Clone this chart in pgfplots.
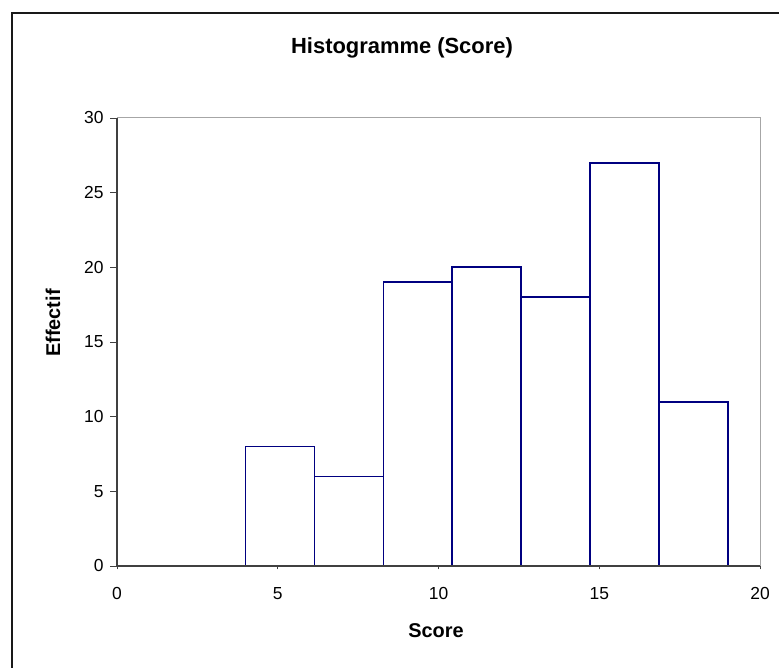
\documentclass[border=0pt]{standalone}
\usepackage{pgfplots}
\pgfplotsset{compat=1.18}
\usepackage{fontspec}
\setmainfont{Liberation Sans}

\definecolor{barblue}{HTML}{000080}
\definecolor{axdark}{HTML}{404040}
\definecolor{axlight}{HTML}{A6A6A6}

\begin{document}
\begin{tikzpicture}[x=1bp,y=1bp]
  \useasboundingbox (0,0) rectangle (779,668);
  % outer chart frame (runs off the right and bottom edge)
  \draw[line width=2bp,black!90] (11.7,-20) -- (11.7,655.3) -- (800,655.3);

  \begin{axis}[
    at={(117bp,102bp)}, anchor=origin,
    scale only axis,
    width=643bp, height=448bp,
    xmin=0, xmax=20, ymin=0, ymax=30,
    xtick={0,5,...,20}, ytick={0,5,...,30},
    xtick pos=bottom, ytick pos=left,
    xtick align=center, ytick align=outside,
    major tick length=7bp,
    tick style={axdark, line width=0.9bp},
    axis line style={axlight, line width=1bp},
    /pgf/number format/assume math mode=true,
    ticklabel style={font=\fontsize{17.5}{20}\selectfont, text=black},
    xticklabel style={yshift=-14bp},
    yticklabel style={xshift=-3bp},
    clip=false,
  ]
    \addplot[ybar interval, draw=barblue, fill=white, line width=1.7bp]
      coordinates {
        (4,8)
        (6.142857,6)
        (8.285714,19)
        (10.428571,20)
        (12.571429,18)
        (14.714286,27)
        (16.857143,11)
        (19,11)
      };
    % dark left and bottom axis lines
    \draw[axdark, line width=1.3bp] (rel axis cs:0,1) -- (rel axis cs:0,0) -- (rel axis cs:1,0);
  \end{axis}

  \node[font=\fontsize{22}{26}\selectfont\bfseries] at (402,620) {Histogramme (Score)};
  \node[font=\fontsize{20}{24}\selectfont\bfseries] at (436,37) {Score};
  \node[font=\fontsize{20}{24}\selectfont\bfseries, rotate=90] at (53,345) {Effectif};
\end{tikzpicture}
\end{document}
